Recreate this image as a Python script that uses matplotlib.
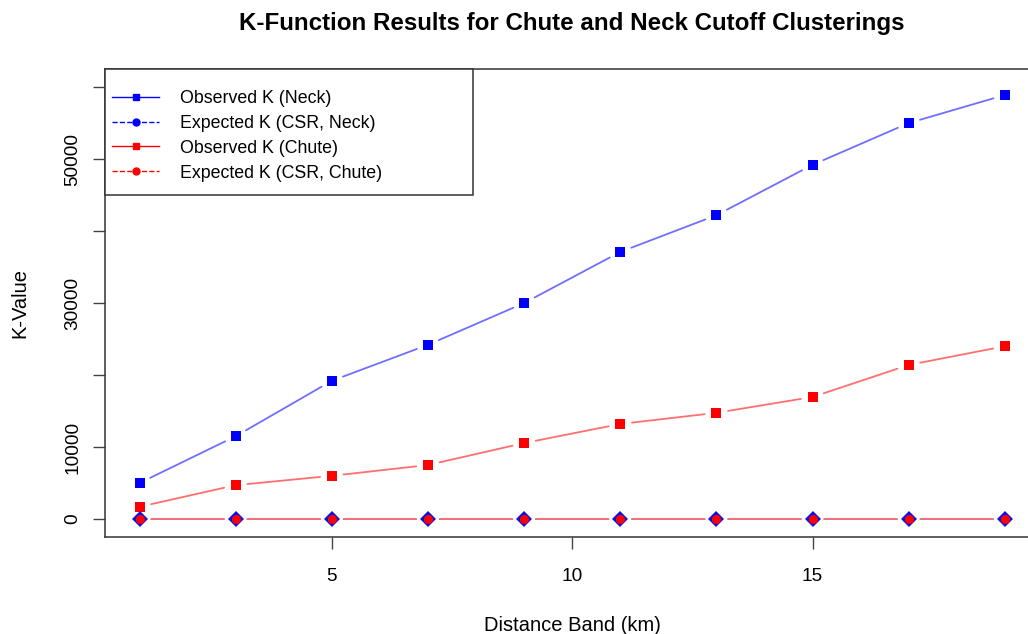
import matplotlib.pyplot as plt
from matplotlib.lines import Line2D
from matplotlib.patches import FancyArrowPatch, Rectangle

plt.rcParams["font.family"] = ["Liberation Sans", "DejaVu Sans"]

# Datos
distance = [1, 3, 5, 7, 9, 11, 13, 15, 17, 19]
obs_neck = [5000, 11500, 19200, 24200, 30000, 37100, 42200, 49200, 55000, 58900]
obs_chute = [1700, 4700, 6000, 7500, 10550, 13200, 14750, 16950, 21400, 24000]
exp_neck = [0, 0, 0, 0, 0, 0, 0, 0, 0, 0]
exp_chute = [0, 0, 0, 0, 0, 0, 0, 0, 0, 0]

fig = plt.figure(figsize=(10.28, 6.34), dpi=100)
ax = fig.add_axes([0.1021, 0.153, 0.909, 0.738])


def draw_b(x, y, color, line_color, marker, ms, gap=8.5):
    # tipo "b" de R: lineas cortadas alrededor de los puntos
    for i in range(len(x) - 1):
        seg = FancyArrowPatch((x[i], y[i]), (x[i + 1], y[i + 1]),
                              arrowstyle="-", color=line_color, lw=1.3,
                              shrinkA=gap, shrinkB=gap)
        ax.add_patch(seg)
    ax.plot(x, y, linestyle="none", marker=marker, markersize=ms,
            color=color, markeredgewidth=0, zorder=3)


draw_b(distance, obs_neck, "#0000ff", "#6f6fff", "s", 7.5)
draw_b(distance, obs_chute, "#ff0000", "#ff6f6f", "s", 7.5)
draw_b(distance, exp_neck, "#1010e0", "#6f6fff", "D", 8.5)
draw_b(distance, exp_chute, "#ff0000", "#ff6f6f", "o", 6.5)

ax.set_xlim(0.28, 19.72)
ax.set_ylim(-2500, 62500)
ax.set_xticks([5, 10, 15])
ax.set_yticks([0, 10000, 20000, 30000, 40000, 50000, 60000])
ax.set_yticklabels(["0", "10000", "", "30000", "", "50000", ""],
                   rotation=90, va="center")
ax.tick_params(axis="both", direction="out", length=8.5, width=1,
               color="#444444", labelsize=13.7)
ax.tick_params(axis="x", pad=14)
ax.tick_params(axis="y", pad=8.5)
for s in ax.spines.values():
    s.set_color("#333333")
    s.set_linewidth(1.1)

ax.set_xlabel("Distance Band (km)", fontsize=14.5, labelpad=22)
ax.set_ylabel("K-Value", fontsize=14.5, labelpad=25)
ax.set_title("K-Function Results for Chute and Neck Cutoff Clusterings",
             fontsize=17.4, fontweight="bold", pad=28)

# Leyenda con marco aparte
frame = Rectangle((0, 0.7308), 0.3937, 0.2692, transform=ax.transAxes,
                  facecolor="white", edgecolor="#333333", linewidth=1.1,
                  zorder=4, clip_on=False)
ax.add_patch(frame)
handles = [
    Line2D([], [], color="#0000ff", linestyle="-", marker="s", markersize=5, lw=1),
    Line2D([], [], color="#0000ff", linestyle="--", marker="o", markersize=5, lw=1),
    Line2D([], [], color="#ff0000", linestyle="-", marker="s", markersize=5, lw=1),
    Line2D([], [], color="#ff0000", linestyle="--", marker="o", markersize=5, lw=1),
]
labels = ["Observed K (Neck)", "Expected K (CSR, Neck)",
          "Observed K (Chute)", "Expected K (CSR, Chute)"]
leg = ax.legend(handles, labels, loc="upper left",
                bbox_to_anchor=(0.0075, 0.9552), borderaxespad=0,
                frameon=False, fontsize=12.8, handlelength=2.65,
                handletextpad=1.15, labelspacing=0.44, borderpad=0)
leg.set_zorder(5)

plt.savefig("out.png", dpi=100)
